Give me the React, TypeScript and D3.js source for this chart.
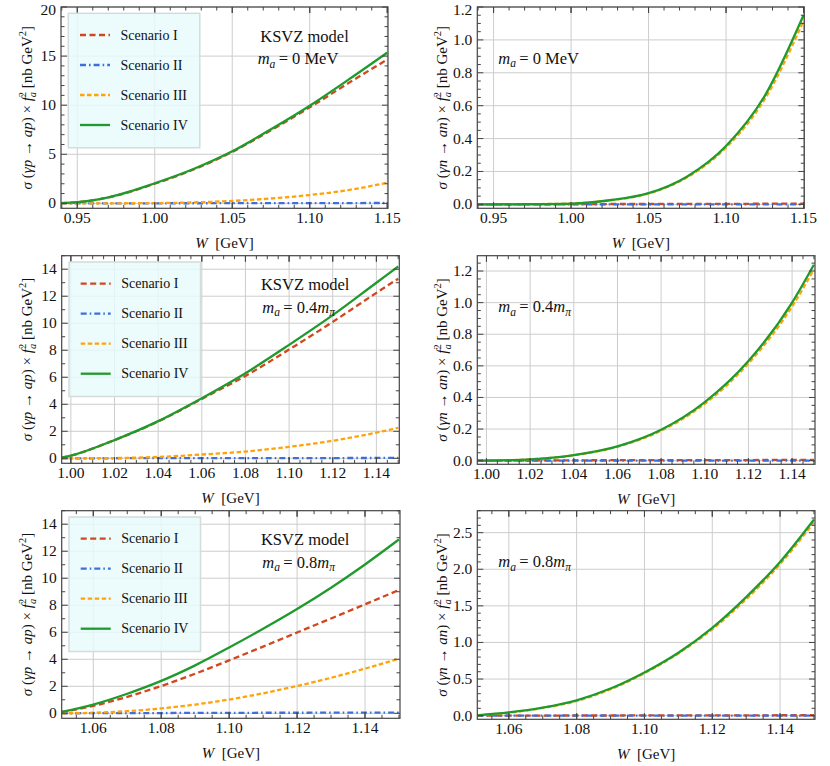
import * as d3 from "d3";

const SCENARIOS = ["Scenario I", "Scenario II", "Scenario III", "Scenario IV"];
const COLORS = ["#d2471c", "#3f6fdc", "#ffa30a", "#1f9a2c"];
const DASHES = ["6 3.5", "6 3 1.6 3", "4.5 2.5", undefined];

// W grids (GeV) for the three axion masses
const wMa0 = [0.9395, 0.95, 0.97, 1.0, 1.025, 1.05, 1.075, 1.1, 1.125, 1.15];
const wMa04 = [0.9958, 1.0, 1.02, 1.04, 1.06, 1.08, 1.1, 1.12, 1.14, 1.15];
const wMa08 = [1.0507, 1.06, 1.07, 1.08, 1.09, 1.1, 1.11, 1.12, 1.13, 1.14, 1.15];

// gamma p -> a p, m_a = 0
const apMa0S1 = [0.03, 0.12, 0.6, 2.0, 3.45, 5.25, 7.45, 9.78, 12.25, 14.65];
const apMa0S2 = [0, 0, 0.005, 0.01, 0.015, 0.02, 0.025, 0.03, 0.035, 0.04];
const apMa0S3 = [0, 0, 0.005, 0.03, 0.1, 0.25, 0.5, 0.85, 1.36, 2.1];
const apMa0S4 = [0.03, 0.12, 0.62, 2.05, 3.5, 5.3, 7.55, 9.95, 12.6, 15.35];

// gamma n -> a n, m_a = 0
const anMa0S1 = [0, 0, 0, 0.001, 0.002, 0.002, 0.003, 0.003, 0.004, 0.005];
const anMa0S2 = [0, 0, 0, 0, 0, 0, 0, 0, 0, 0];
const anMa0S3 = [0, 0, 0.001, 0.005, 0.024, 0.066, 0.165, 0.345, 0.64, 1.115];
const anMa0S4 = [0, 0, 0.001, 0.005, 0.025, 0.068, 0.17, 0.355, 0.66, 1.15];

// gamma p -> a p, m_a = 0.4 m_pi
const apMa04S1 = [0.05, 0.2, 1.35, 2.72, 4.4, 6.1, 8.05, 10.1, 12.25, 13.3];
const apMa04S2 = [0, 0, 0.005, 0.01, 0.01, 0.015, 0.02, 0.02, 0.025, 0.03];
const apMa04S3 = [0, 0, 0.02, 0.1, 0.28, 0.5, 0.85, 1.3, 1.9, 2.25];
const apMa04S4 = [0.05, 0.2, 1.35, 2.75, 4.45, 6.3, 8.4, 10.6, 13.0, 14.2];

// gamma n -> a n, m_a = 0.4 m_pi
const anMa04S1 = [0, 0, 0.001, 0.002, 0.003, 0.003, 0.004, 0.004, 0.005, 0.005];
const anMa04S2 = [0, 0, 0, 0, 0, 0, 0, 0, 0, 0];
const anMa04S3 = [0, 0.0005, 0.008, 0.034, 0.088, 0.19, 0.36, 0.615, 0.975, 1.21];
const anMa04S4 = [0, 0.0005, 0.008, 0.035, 0.09, 0.195, 0.37, 0.63, 1.0, 1.24];

// gamma p -> a p, m_a = 0.8 m_pi
const apMa08S1 = [0.08, 0.55, 1.22, 2.02, 2.93, 3.92, 4.94, 5.98, 7.02, 8.07, 9.13];
const apMa08S2 = [0, 0.01, 0.02, 0.02, 0.03, 0.03, 0.04, 0.04, 0.05, 0.05, 0.05];
const apMa08S3 = [0, 0.04, 0.16, 0.36, 0.65, 1.02, 1.48, 2.02, 2.63, 3.31, 4.05];
const apMa08S4 = [0.1, 0.65, 1.45, 2.4, 3.55, 4.87, 6.26, 7.72, 9.3, 11.02, 12.87];

// gamma n -> a n, m_a = 0.8 m_pi
const anMa08S1 = [0, 0.001, 0.001, 0.002, 0.002, 0.003, 0.003, 0.004, 0.004, 0.005, 0.005];
const anMa08S2 = [0, 0, 0, 0, 0, 0, 0, 0, 0, 0, 0];
const anMa08S3 = [0.005, 0.04, 0.105, 0.2, 0.36, 0.58, 0.85, 1.18, 1.59, 2.07, 2.64];
const anMa08S4 = [0.005, 0.045, 0.11, 0.21, 0.37, 0.59, 0.86, 1.2, 1.62, 2.1, 2.68];

// tick values
const xTicksMa0 = [0.95, 1.0, 1.05, 1.1, 1.15];
const xTicksMa04 = [1.0, 1.02, 1.04, 1.06, 1.08, 1.1, 1.12, 1.14];
const xTicksMa08 = [1.06, 1.08, 1.1, 1.12, 1.14];
const yTicksAp0 = [0, 5, 10, 15, 20];
const yTicksAp = [0, 2, 4, 6, 8, 10, 12, 14];
const yTicksAn = [0, 0.2, 0.4, 0.6, 0.8, 1.0, 1.2];
const yTicksAn08 = [0, 0.5, 1.0, 1.5, 2.0, 2.5];

const FONT = "Liberation Serif";
const FRAME = "#444";
const INK = "#111";

type PanelCfg = {
  left: number;
  right: number;
  top: number;
  bottom: number;
  xDomain: [number, number];
  yDomain: [number, number];
  xTicks: number[];
  xMinor: number;
  yTicks: number[];
  yMinor: number;
  yFmt: (v: number) => string;
  w: number[];
  series: number[][];
  nucleon: string;
  mass: string;
  legend: boolean;
  labelX: number;
};

function minorTicks(domain: [number, number], step: number) {
  const start = Math.ceil(domain[0] / step - 1e-9);
  const end = Math.floor(domain[1] / step + 1e-9);
  return d3.range(start, end + 1).map((k) => +(k * step).toFixed(6));
}

function MassText({ mass, size }: { mass: string; size: number }) {
  const sub = size * 0.7;
  if (mass === "0") {
    return (
      <>
        <tspan fontStyle="italic">m</tspan>
        <tspan fontStyle="italic" fontSize={sub} dy={3.5}>a</tspan>
        <tspan dy={-3.5}>{"\u2009= 0 MeV"}</tspan>
      </>
    );
  }
  return (
    <>
      <tspan fontStyle="italic">m</tspan>
      <tspan fontStyle="italic" fontSize={sub} dy={3.5}>a</tspan>
      <tspan dy={-3.5}>{`\u2009= ${mass}`}</tspan>
      <tspan fontStyle="italic">m</tspan>
      <tspan fontStyle="italic" fontSize={sub} dy={3.5}>π</tspan>
    </>
  );
}

function Panel({ cfg }: { cfg: PanelCfg }) {
  const { left, right, top, bottom } = cfg;
  const x = d3.scaleLinear().domain(cfg.xDomain).range([left, right]);
  const y = d3.scaleLinear().domain(cfg.yDomain).range([bottom, top]);
  const line = d3
    .line<[number, number]>()
    .x((d) => x(d[0]))
    .y((d) => y(d[1]))
    .curve(d3.curveMonotoneX);
  const clipId = `clip-${Math.round(left)}-${Math.round(top)}`;
  const xMinor = minorTicks(cfg.xDomain, cfg.xMinor);
  const yMinor = minorTicks(cfg.yDomain, cfg.yMinor);
  const isMajor = (v: number, majors: number[]) => majors.some((m) => Math.abs(m - v) < 1e-6);
  const cy = (top + bottom) / 2;
  const cx = (left + right) / 2;
  const big = 6;
  const small = 3.5;

  return (
    <g style={{ fontFamily: FONT }}>
      <defs>
        <clipPath id={clipId}>
          <rect x={left} y={top} width={right - left} height={bottom - top} />
        </clipPath>
      </defs>
      {/* grid */}
      <g stroke="#cdcdcd" strokeWidth={1}>
        {cfg.xTicks.map((t) => (
          <line key={`gx${t}`} x1={x(t)} x2={x(t)} y1={top} y2={bottom} />
        ))}
        {cfg.yTicks.map((t) => (
          <line key={`gy${t}`} x1={left} x2={right} y1={y(t)} y2={y(t)} />
        ))}
      </g>
      {/* curves */}
      <g clipPath={`url(#${clipId})`} fill="none">
        {cfg.series.map((vals, i) => (
          <path
            key={SCENARIOS[i]}
            d={line(cfg.w.map((w, j) => [w, vals[j]] as [number, number])) ?? undefined}
            stroke={COLORS[i]}
            strokeWidth={2.3}
            strokeDasharray={DASHES[i]}
          />
        ))}
      </g>
      {/* frame ticks */}
      <g stroke={FRAME} strokeWidth={1}>
        {xMinor.map((t) => {
          const len = isMajor(t, cfg.xTicks) ? big : small;
          return (
            <g key={`tx${t}`}>
              <line x1={x(t)} x2={x(t)} y1={bottom} y2={bottom - len} />
              <line x1={x(t)} x2={x(t)} y1={top} y2={top + len} />
            </g>
          );
        })}
        {cfg.xTicks.map((t) => (
          <g key={`txm${t}`}>
            <line x1={x(t)} x2={x(t)} y1={bottom} y2={bottom - big} />
            <line x1={x(t)} x2={x(t)} y1={top} y2={top + big} />
          </g>
        ))}
        {yMinor.map((t) => {
          const len = isMajor(t, cfg.yTicks) ? big : small;
          return (
            <g key={`ty${t}`}>
              <line x1={left} x2={left + len} y1={y(t)} y2={y(t)} />
              <line x1={right} x2={right - len} y1={y(t)} y2={y(t)} />
            </g>
          );
        })}
      </g>
      <rect
        x={left}
        y={top}
        width={right - left}
        height={bottom - top}
        fill="none"
        stroke={FRAME}
        strokeWidth={1.2}
      />
      {/* tick labels */}
      <g fontSize={15.5} fill={INK}>
        {cfg.xTicks.map((t) => (
          <text key={`lx${t}`} x={x(t)} y={bottom + 14.5} textAnchor="middle">
            {d3.format(".2f")(t)}
          </text>
        ))}
        {cfg.yTicks.map((t) => (
          <text key={`ly${t}`} x={left - 5} y={Math.max(y(t) + 5, 14.5)} textAnchor="end">
            {cfg.yFmt(t)}
          </text>
        ))}
      </g>
      {/* axis labels */}
      <text x={cx} y={bottom + 39.5} textAnchor="middle" fontSize={15} fill={INK}>
        <tspan fontStyle="italic">W</tspan>
        <tspan>{"\u2002[GeV]"}</tspan>
      </text>
      <text
        transform={`translate(${cfg.labelX},${cy}) rotate(-90)`}
        textAnchor="middle"
        fontSize={15}
        fill={INK}
      >
        <tspan fontStyle="italic">σ</tspan>
        <tspan>{" ("}</tspan>
        <tspan fontStyle="italic">{`γ${cfg.nucleon}`}</tspan>
        <tspan>{" → "}</tspan>
        <tspan fontStyle="italic">{`a${cfg.nucleon}`}</tspan>
        <tspan>{") × "}</tspan>
        <tspan fontStyle="italic">f</tspan>
        <tspan fontStyle="italic" fontSize={10.5} dy={4}>a</tspan>
        <tspan fontSize={10.5} dx={-5.3} dy={-10}>2</tspan>
        <tspan dy={6}>{" [nb GeV"}</tspan>
        <tspan fontSize={10.5} dy={-6}>2</tspan>
        <tspan dy={6}>]</tspan>
      </text>
      {/* annotations */}
      {cfg.legend ? (
        <g fill={INK}>
          <text x={left + 243.5} y={top + 34.5} textAnchor="middle" fontSize={16.5}>
            KSVZ model
          </text>
          <text x={left + 237} y={top + 57} textAnchor="middle" fontSize={16.5}>
            <MassText mass={cfg.mass} size={16.5} />
          </text>
        </g>
      ) : (
        <text x={left + 21} y={top + 56.5} fontSize={16.5} fill={INK}>
          <MassText mass={cfg.mass} size={16.5} />
        </text>
      )}
      {/* legend */}
      {cfg.legend && (
        <g>
          <rect
            x={left + 7.3}
            y={top + 6.3}
            width={131.5}
            height={134.5}
            fill="rgb(232,250,250)"
            fillOpacity={0.82}
            stroke="#d4dcdc"
            strokeWidth={1.5}
          />
          {SCENARIOS.map((s, i) => {
            const ly = top + 28 + i * 30;
            return (
              <g key={s}>
                <line
                  x1={left + 19}
                  x2={left + 49}
                  y1={ly}
                  y2={ly}
                  stroke={COLORS[i]}
                  strokeWidth={2.3}
                  strokeDasharray={DASHES[i]}
                />
                <text x={left + 59.5} y={ly + 4.5} fontSize={14} fill={INK}>
                  {s}
                </text>
              </g>
            );
          })}
        </g>
      )}
    </g>
  );
}

const fmtInt = d3.format("d");
const fmt1 = d3.format(".1f");

const PANELS: PanelCfg[] = [
  {
    left: 61, right: 388, top: 7, bottom: 208.3,
    xDomain: [0.9395, 1.1505], yDomain: [-0.5, 20],
    xTicks: xTicksMa0, xMinor: 0.01, yTicks: yTicksAp0, yMinor: 1, yFmt: fmtInt,
    w: wMa0, series: [apMa0S1, apMa0S2, apMa0S3, apMa0S4],
    nucleon: "p", mass: "0", legend: true, labelX: 32,
  },
  {
    left: 477.3, right: 804.3, top: 7, bottom: 208.3,
    xDomain: [0.9395, 1.1505], yDomain: [-0.024, 1.2],
    xTicks: xTicksMa0, xMinor: 0.01, yTicks: yTicksAn, yMinor: 0.05, yFmt: fmt1,
    w: wMa0, series: [anMa0S1, anMa0S2, anMa0S3, anMa0S4],
    nucleon: "n", mass: "0", legend: false, labelX: 447,
  },
  {
    left: 61.7, right: 399.3, top: 255.7, bottom: 463.3,
    xDomain: [0.9958, 1.1505], yDomain: [-0.37, 15],
    xTicks: xTicksMa04, xMinor: 0.005, yTicks: yTicksAp, yMinor: 1, yFmt: fmtInt,
    w: wMa04, series: [apMa04S1, apMa04S2, apMa04S3, apMa04S4],
    nucleon: "p", mass: "0.4", legend: true, labelX: 32,
  },
  {
    left: 477.3, right: 815, top: 255.7, bottom: 464.3,
    xDomain: [0.9958, 1.1505], yDomain: [-0.023, 1.297],
    xTicks: xTicksMa04, xMinor: 0.005, yTicks: yTicksAn, yMinor: 0.05, yFmt: fmt1,
    w: wMa04, series: [anMa04S1, anMa04S2, anMa04S3, anMa04S4],
    nucleon: "n", mass: "0.4", legend: false, labelX: 447,
  },
  {
    left: 61.7, right: 400, top: 510.7, bottom: 718.3,
    xDomain: [1.0507, 1.1503], yDomain: [-0.37, 15],
    xTicks: xTicksMa08, xMinor: 0.005, yTicks: yTicksAp, yMinor: 1, yFmt: fmtInt,
    w: wMa08, series: [apMa08S1, apMa08S2, apMa08S3, apMa08S4],
    nucleon: "p", mass: "0.8", legend: true, labelX: 32,
  },
  {
    left: 477.3, right: 815, top: 510.7, bottom: 719.3,
    xDomain: [1.0507, 1.1503], yDomain: [-0.05, 2.8],
    xTicks: xTicksMa08, xMinor: 0.005, yTicks: yTicksAn08, yMinor: 0.1, yFmt: fmt1,
    w: wMa08, series: [anMa08S1, anMa08S2, anMa08S3, anMa08S4],
    nucleon: "n", mass: "0.8", legend: false, labelX: 447,
  },
];

export default function App() {
  return (
    <svg
      width={830}
      height={766}
      style={{ position: "absolute", left: 0, top: 0, background: "#fff" }}
    >
      {PANELS.map((p, i) => (
        <Panel key={i} cfg={p} />
      ))}
    </svg>
  );
}
